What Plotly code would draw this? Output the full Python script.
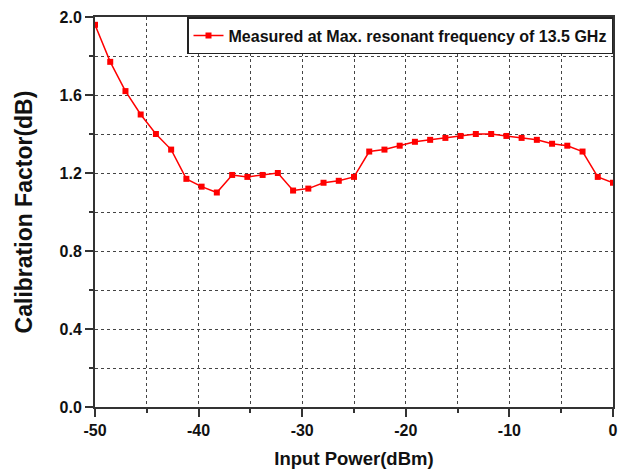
import plotly.graph_objects as go

input_power = [-50.0, -48.53, -47.06, -45.59, -44.12, -42.65, -41.18, -39.71, -38.24,
               -36.76, -35.29, -33.82, -32.35, -30.88, -29.41, -27.94, -26.47, -25.0,
               -23.53, -22.06, -20.59, -19.12, -17.65, -16.18, -14.71, -13.24, -11.76,
               -10.29, -8.82, -7.35, -5.88, -4.41, -2.94, -1.47, 0.0]
cal_factor = [1.96, 1.77, 1.62, 1.50, 1.40, 1.32, 1.17, 1.13, 1.10,
              1.19, 1.18, 1.19, 1.20, 1.11, 1.12, 1.15, 1.16, 1.18,
              1.31, 1.32, 1.34, 1.36, 1.37, 1.38, 1.39, 1.40, 1.40,
              1.39, 1.38, 1.37, 1.35, 1.34, 1.31, 1.18, 1.15]
series_name = "Measured at Max. resonant frequency of 13.5 GHz"
x_ticks = [-50, -40, -30, -20, -10, 0]
y_ticks = [0.0, 0.4, 0.8, 1.2, 1.6, 2.0]

font_family = "Liberation Sans, Arial, sans-serif"

fig = go.Figure()
fig.add_trace(go.Scatter(
    x=input_power, y=cal_factor, mode="lines+markers", name=series_name,
    line=dict(color="#ff0000", width=1.5),
    marker=dict(symbol="square", size=6, color="#ff0000"),
))

axis_common = dict(
    showline=True, linecolor="#333333", linewidth=2, mirror=True,
    ticks="outside", ticklen=8, tickwidth=2, tickcolor="#333333",
    showgrid=False, zeroline=False, automargin=False,
    ticklabeloverflow="allow",
    tickfont=dict(family=font_family, size=16, color="#111111", weight="bold"),
)

fig.update_xaxes(
    range=[-50, 0], tickvals=x_ticks, ticktext=[str(v) for v in x_ticks],
    title=dict(text="<b>Input Power(dBm)</b>", font=dict(family=font_family, size=18.5, color="#111111"), standoff=14),
    minor=dict(dtick=5, tick0=-50, ticks="outside", ticklen=4, tickwidth=1.5, tickcolor="#333333",
               showgrid=True, gridcolor="#444444", griddash="dot", gridwidth=1),
    **axis_common,
)
fig.update_yaxes(
    range=[0, 2.0], tickvals=y_ticks, ticktext=[f"{v:.1f}" for v in y_ticks],
    title=dict(text="<b>Calibration Factor(dB)</b>", font=dict(family=font_family, size=23, color="#111111"), standoff=20),
    minor=dict(dtick=0.2, tick0=0, ticks="outside", ticklen=4, tickwidth=1.5, tickcolor="#333333",
               showgrid=True, gridcolor="#444444", griddash="dot", gridwidth=1),
    **axis_common,
)

fig.update_layout(
    width=619, height=472,
    margin=dict(l=95, r=6, t=17, b=65),
    plot_bgcolor="white", paper_bgcolor="white",
    showlegend=True,
    legend=dict(x=1, xanchor="right", y=1, yanchor="top",
                bordercolor="#222222", borderwidth=1.5, bgcolor="white",
                font=dict(family=font_family, size=16, color="#111111", weight="bold"),
                itemwidth=30, tracegroupgap=0),
    font=dict(family=font_family),
)

fig.write_html("out.html")
